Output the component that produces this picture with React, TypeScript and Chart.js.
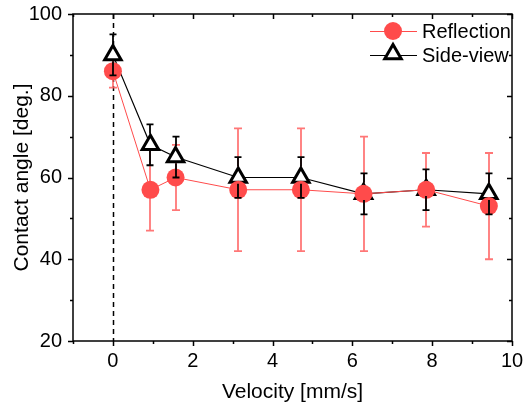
import React, { useEffect, useRef } from 'react';
import { Chart, registerables } from 'chart.js';
Chart.register(...registerables);

const velocity = [0, 0.94, 1.57, 3.14, 4.71, 6.28, 7.85, 9.42];
const reflection = [86, 57, 60, 57, 57, 56, 57, 53];
const reflectionErr = [4, 10, 8, 15, 15, 14, 9, 13];
const sideView = [90, 68, 65, 60, 60, 56, 57, 56];
const sideViewErr = [5, 5, 5, 5, 5, 5, 5, 5];
const xMajorTicks = [0, 2, 4, 6, 8, 10];
const xMinorTicks = [-1, 1, 3, 5, 7, 9];
const yMajorTicks = [20, 40, 60, 80, 100];
const yMinorTicks = [30, 50, 70, 90];
const seriesNames = ['Reflection', 'Side-view'];

const FONT = '"Liberation Sans", Arial, sans-serif';
const RED = '#FF4B4B';
const RED_ERR = 'rgba(255,95,95,0.85)';
const R_CIRCLE = 9;
const R_TRI = 9.5;

function drawTriangle(ctx: CanvasRenderingContext2D, cx: number, cy: number, r: number) {
  ctx.beginPath();
  let rad = 0;
  ctx.moveTo(cx + Math.sin(rad) * r, cy - Math.cos(rad) * r);
  rad += (2 * Math.PI) / 3;
  ctx.lineTo(cx + Math.sin(rad) * r, cy - Math.cos(rad) * r);
  rad += (2 * Math.PI) / 3;
  ctx.lineTo(cx + Math.sin(rad) * r, cy - Math.cos(rad) * r);
  ctx.closePath();
  ctx.fillStyle = '#fff';
  ctx.fill();
  ctx.lineWidth = 3;
  ctx.strokeStyle = '#000';
  ctx.lineJoin = 'miter';
  ctx.stroke();
}

function drawErrBars(
  ctx: CanvasRenderingContext2D, xs: any, ys: any, vals: number[], errs: number[],
  color: string, capHalf: number, gapUp: number, gapDown: number, width: number
) {
  ctx.strokeStyle = color;
  ctx.lineWidth = width;
  velocity.forEach((v, i) => {
    const px = Math.round(xs.getPixelForValue(v));
    const py = ys.getPixelForValue(vals[i]);
    const top = ys.getPixelForValue(vals[i] + errs[i]);
    const bot = ys.getPixelForValue(vals[i] - errs[i]);
    ctx.beginPath();
    if (py - gapUp > top) { ctx.moveTo(px, py - gapUp); ctx.lineTo(px, top); }
    if (py + gapDown < bot) { ctx.moveTo(px, py + gapDown); ctx.lineTo(px, bot); }
    ctx.moveTo(px - capHalf, top); ctx.lineTo(px + capHalf, top);
    ctx.moveTo(px - capHalf, bot); ctx.lineTo(px + capHalf, bot);
    ctx.stroke();
  });
}

const decorPlugin = {
  id: 'decor',
  beforeDatasetsDraw(chart: any) {
    const { ctx, chartArea: a, scales: { x, y } } = chart;
    ctx.save();
    const x0 = Math.round(x.getPixelForValue(0)) + 0.5;
    ctx.strokeStyle = '#000';
    ctx.lineWidth = 1.5;
    ctx.setLineDash([5, 4]);
    ctx.beginPath();
    ctx.moveTo(x0, a.top);
    ctx.lineTo(x0, a.bottom);
    ctx.stroke();
    ctx.setLineDash([]);
    drawErrBars(ctx, x, y, reflection, reflectionErr, RED_ERR, 4, 0, 0, 1.8);
    ctx.restore();
  },
  afterDatasetsDraw(chart: any) {
    const { ctx, chartArea: a, scales: { x, y } } = chart;
    ctx.save();
    drawErrBars(ctx, x, y, sideView, sideViewErr, '#000', 3.5, R_TRI + 1.5, R_TRI * 0.5 + 1.5, 1.8);

    // frame
    ctx.strokeStyle = '#000';
    ctx.lineWidth = 1.5;
    ctx.strokeRect(a.left, a.top, a.right - a.left, a.bottom - a.top);
    ctx.beginPath();
    const tickX = (vals: number[], len: number) => {
      vals.forEach((v) => {
        const px = Math.round(x.getPixelForValue(v)) + 0.5;
        ctx.moveTo(px, a.bottom); ctx.lineTo(px, a.bottom + len);
        ctx.moveTo(px, a.top); ctx.lineTo(px, a.top + len);
      });
    };
    const tickY = (vals: number[], len: number) => {
      vals.forEach((v) => {
        const py = Math.round(y.getPixelForValue(v)) + 0.5;
        ctx.moveTo(a.left, py); ctx.lineTo(a.left - len, py);
        ctx.moveTo(a.right, py); ctx.lineTo(a.right - len, py);
      });
    };
    tickX(xMajorTicks, 5);
    tickX(xMinorTicks, 3);
    tickY(yMajorTicks, 5);
    tickY(yMinorTicks, 3);
    ctx.stroke();

    // legend
    const lx0 = 370, lx1 = 417, mx = 393, tx = 422;
    const rows = [31, 55];
    ctx.font = `20px ${FONT}`;
    ctx.textBaseline = 'middle';
    ctx.textAlign = 'left';
    ctx.strokeStyle = RED; ctx.lineWidth = 1;
    ctx.beginPath(); ctx.moveTo(lx0, rows[0] + 0.5); ctx.lineTo(lx1, rows[0] + 0.5); ctx.stroke();
    ctx.fillStyle = RED;
    ctx.beginPath(); ctx.arc(mx, rows[0], R_CIRCLE, 0, Math.PI * 2); ctx.fill();
    ctx.fillStyle = '#000';
    ctx.fillText(seriesNames[0], tx, rows[0] + 1);
    ctx.strokeStyle = '#000'; ctx.lineWidth = 1.2;
    ctx.beginPath(); ctx.moveTo(lx0, rows[1] + 0.5); ctx.lineTo(lx1, rows[1] + 0.5); ctx.stroke();
    drawTriangle(ctx, mx, rows[1] - 1, R_TRI);
    ctx.fillStyle = '#000';
    ctx.fillText(seriesNames[1], tx, rows[1] + 1);
    ctx.restore();
  },
};

const zeroPad = (s: any) => {
  s.paddingTop = 0; s.paddingBottom = 0; s.paddingLeft = 0; s.paddingRight = 0;
};

export default function App() {
  const ref = useRef<HTMLCanvasElement | null>(null);
  useEffect(() => {
    if (!ref.current) return;
    const chart = new Chart(ref.current, {
      type: 'line',
      data: {
        datasets: [
          {
            label: seriesNames[0],
            data: velocity.map((v, i) => ({ x: v, y: reflection[i] })),
            borderColor: RED,
            backgroundColor: RED,
            pointBackgroundColor: RED,
            pointBorderWidth: 0,
            pointRadius: R_CIRCLE,
            pointStyle: 'circle',
            borderWidth: 1,
          },
          {
            label: seriesNames[1],
            data: velocity.map((v, i) => ({ x: v, y: sideView[i] })),
            borderColor: '#000',
            backgroundColor: '#fff',
            pointBackgroundColor: '#fff',
            pointBorderColor: '#000',
            pointBorderWidth: 3,
            pointRadius: R_TRI,
            pointStyle: 'triangle',
            borderWidth: 1.2,
          },
        ],
      },
      options: {
        animation: false,
        responsive: true,
        maintainAspectRatio: false,
        layout: { padding: { top: 14, right: 15, left: 0, bottom: 0 } },
        plugins: { legend: { display: false }, tooltip: { enabled: false } },
        scales: {
          x: {
            type: 'linear',
            min: -1,
            max: 10,
            grid: { display: false, drawTicks: false },
            border: { display: false },
            afterBuildTicks: (s: any) => { s.ticks = xMajorTicks.map((v) => ({ value: v })); },
            afterFit: (s: any) => { s.height = 65; zeroPad(s); },
            ticks: { color: '#000', padding: 8, font: { family: FONT, size: 20 } },
            title: {
              display: true,
              text: 'Velocity [mm/s]',
              color: '#000',
              font: { family: FONT, size: 21 },
              padding: { top: 0, bottom: 1 },
            },
          },
          y: {
            type: 'linear',
            min: 20,
            max: 100,
            grid: { display: false, drawTicks: false },
            border: { display: false },
            afterBuildTicks: (s: any) => { s.ticks = yMajorTicks.map((v) => ({ value: v })); },
            afterFit: (s: any) => { s.width = 73; zeroPad(s); },
            ticks: { color: '#000', padding: 11, font: { family: FONT, size: 20 } },
            title: {
              display: true,
              text: 'Contact angle [deg.]',
              color: '#000',
              font: { family: FONT, size: 21 },
              padding: { top: 10, bottom: 0 },
            },
          },
        },
      },
      plugins: [decorPlugin],
    } as any);
    return () => chart.destroy();
  }, []);
  return (
    <div style={{ position: 'absolute', left: 0, top: 0, width: 527, height: 406 }}>
      <canvas ref={ref} />
    </div>
  );
}
